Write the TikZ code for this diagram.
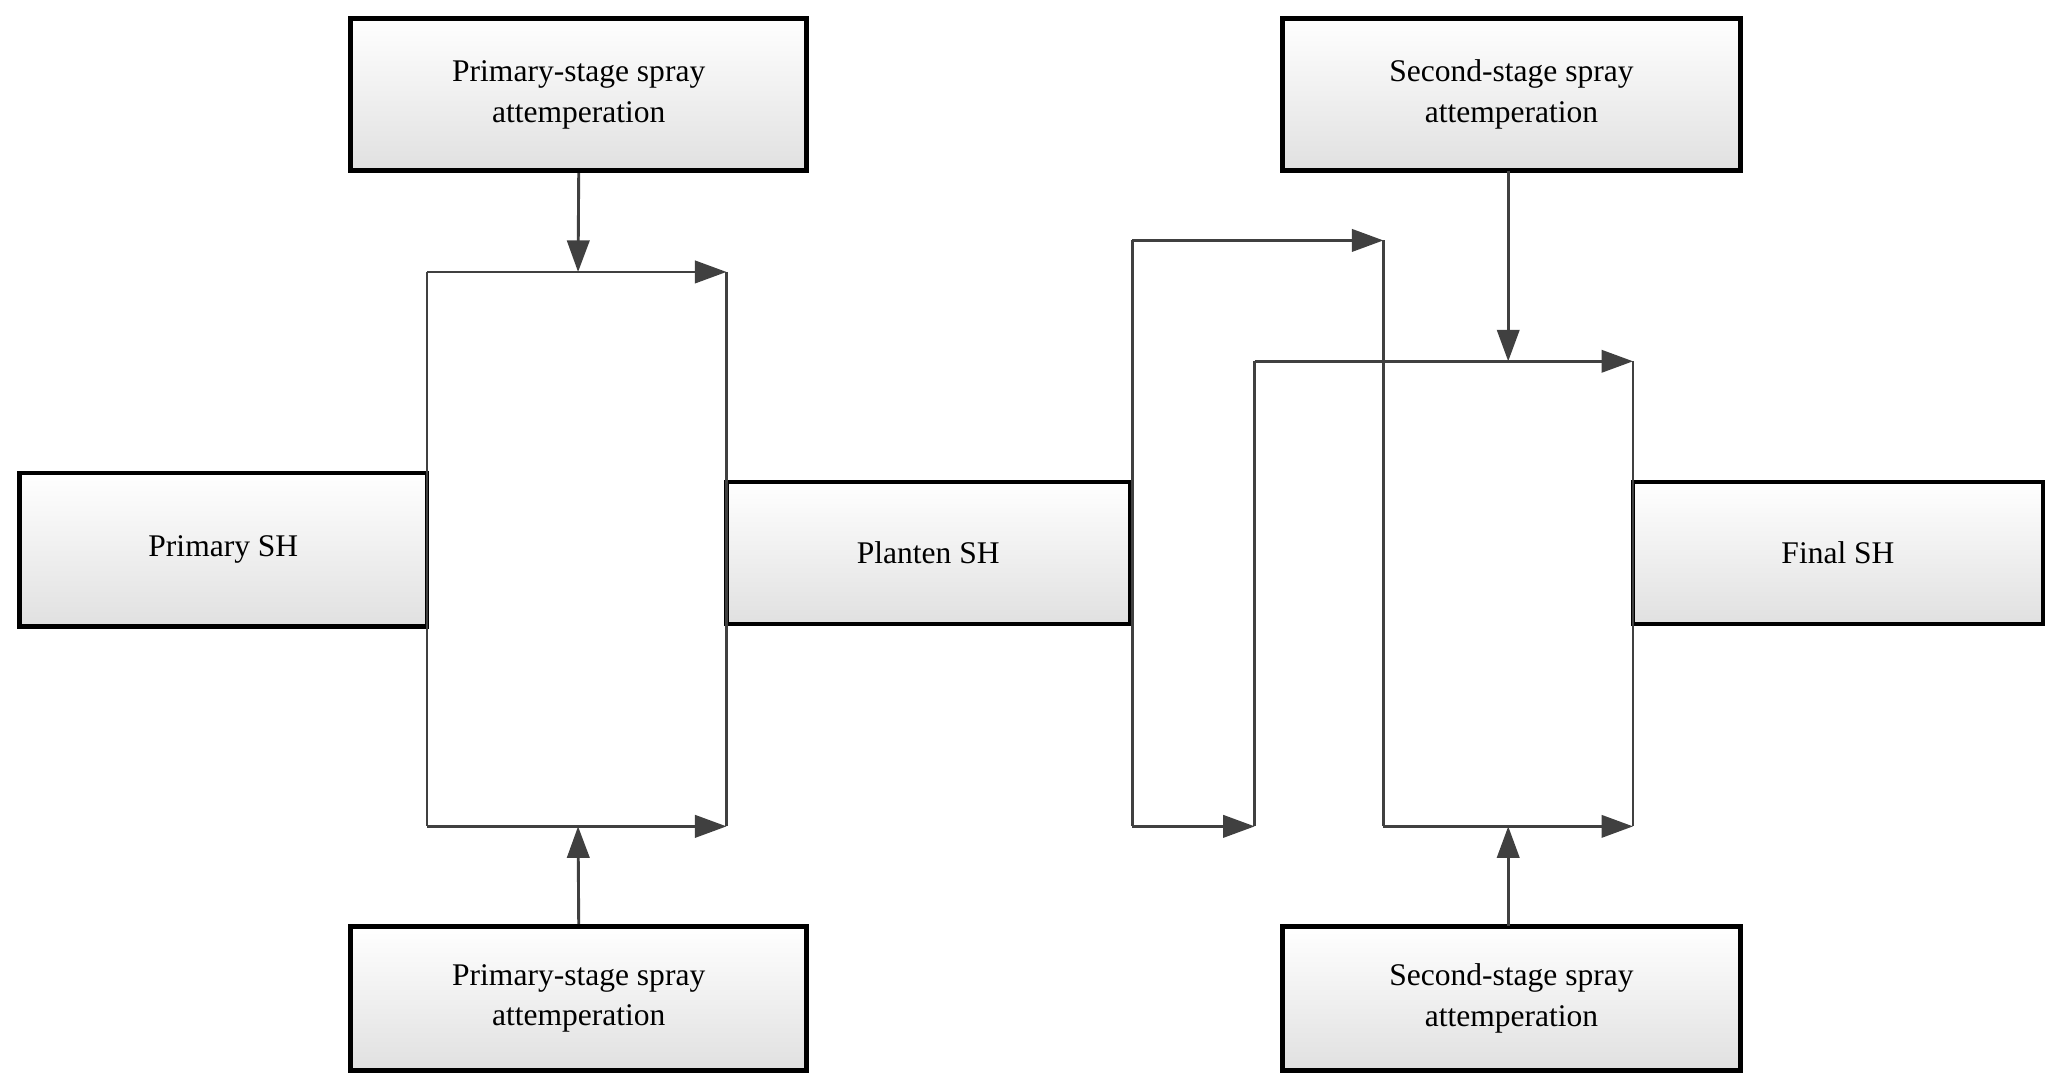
\documentclass[tikz,border=0pt]{standalone}
\usepackage{fontspec}
\setmainfont{Liberation Serif}
\usetikzlibrary{arrows.meta}
\begin{document}
\begin{tikzpicture}[x=1pt,y=-1pt,
  box/.style={draw=black,line width=3.5pt,top color=white,bottom color=black!12,inner sep=0pt,font=\fontsize{24}{31}\selectfont,align=center},
  ln/.style={draw=black!75,line width=2.2pt},
  ar/.style={ln,-{Triangle[length=24pt,width=17pt]}}]
\useasboundingbox (0,0) rectangle (1568,829);
\node[box,minimum width=310,minimum height=117] (psh) at (170,418.5) {Primary SH};
\node[box,minimum width=307,minimum height=108] (plsh) at (706.5,421) {Planten SH};
\node[box,minimum width=312,minimum height=108] (fsh) at (1399,421) {Final SH};
\node[box,minimum width=347,minimum height=116] (ptl) at (440.5,72) {Primary-stage spray\\attemperation};
\node[box,minimum width=347,minimum height=110] (pbl) at (440.5,760) {Primary-stage spray\\attemperation};
\node[box,minimum width=349,minimum height=116] (str) at (1150.5,72) {Second-stage spray\\attemperation};
\node[box,minimum width=349,minimum height=110] (sbr) at (1150.5,760) {Second-stage spray\\attemperation};
% left loop
\coordinate (a1) at (325,207); \coordinate (a2) at (553,207);
\coordinate (a3) at (325,629); \coordinate (a4) at (553,629);
\draw[ln] (a1) -- (a3); \draw[ln] (a2) -- (a4);
\draw[ar] (a1) -- (a2); \draw[ar] (a3) -- (a4);
\draw[ar] (ptl.south) -- (440,207);
\draw[ar] (pbl.north) -- (440,629);
% right
\coordinate (b1) at (862,183); \coordinate (b2) at (1053,183);
\coordinate (b3) at (862,629); \coordinate (b4) at (955,629);
\coordinate (b5) at (955,275); \coordinate (b6) at (1243,275);
\coordinate (b7) at (1053,629); \coordinate (b8) at (1243,629);
\draw[ln] (b1) -- (b3); \draw[ln] (b2) -- (b7);
\draw[ar] (b1) -- (b2); \draw[ar] (b3) -- (b4);
\draw[ln] (b4) -- (b5); \draw[ar] (b5) -- (b6);
\draw[ln] (b6) -- (b8); \draw[ar] (b7) -- (b8);
\draw[ar] (1148,130) -- (1148,275);
\draw[ar] (1148,705) -- (1148,629);
\end{tikzpicture}
\end{document}
